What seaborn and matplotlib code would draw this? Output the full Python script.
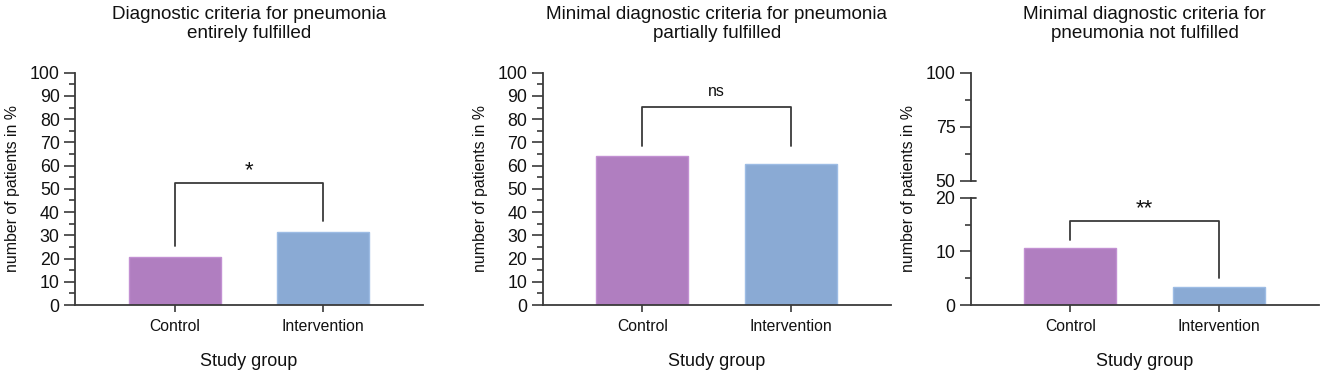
import matplotlib
matplotlib.use("Agg")
import matplotlib.pyplot as plt
import seaborn as sns
import pandas as pd
from matplotlib.ticker import MultipleLocator, FixedLocator

# ---- data ----
groups = ["Control", "Intervention"]
titles = [
    "Diagnostic criteria for pneumonia\nentirely fulfilled",
    "Minimal diagnostic criteria for pneumonia\npartially fulfilled",
    "Minimal diagnostic criteria for\npneumonia not fulfilled",
]
entirely = [20.5, 31.3]
partially = [64.3, 60.7]
not_fulfilled = [10.7, 3.3]
significance = ["*", "ns", "**"]
# bracket: (bar height, left leg end, right leg end, label y)
brackets = [
    (52.5, 25.6, 36.2, 58.0),
    (85.1, 68.4, 68.4, 91.8),
    (15.7, 12.1, 5.0, 18.0),
]
palette = ["#B07EC0", "#8AAAD4"]
edges = ["#C290D2", "#9DBCE4"]
axis_col = "#3a3a3a"
txt_col = "#111111"

sns.set_theme(style="ticks")
plt.rcParams["font.family"] = ["Liberation Sans", "DejaVu Sans"]
plt.rcParams["axes.edgecolor"] = axis_col
plt.rcParams["xtick.color"] = axis_col
plt.rcParams["ytick.color"] = axis_col
plt.rcParams["xtick.labelcolor"] = txt_col
plt.rcParams["ytick.labelcolor"] = txt_col
plt.rcParams["text.color"] = txt_col
plt.rcParams["axes.labelcolor"] = txt_col

W, H = 1325, 371
fig = plt.figure(figsize=(W / 100, H / 100), dpi=100)

def fx(px):
    return px / W

def fy(py):
    return (H - py) / H

y_bot_px, y_top_px = 305, 72.7
lefts = [75, 542.7, 970.7]
ax_w = 348

def draw_bars(ax, vals):
    df = pd.DataFrame({"group": groups, "value": vals})
    sns.barplot(data=df, x="group", y="value", hue="group", palette=palette,
                width=0.62, legend=False, ax=ax, saturation=1)
    for p, ec in zip(ax.patches, edges):
        p.set_edgecolor(ec)
        p.set_linewidth(1.0)
    ax.set_xlim(-0.67, 1.67)
    ax.set_xlabel("Study group", fontsize=13, labelpad=14)
    ax.set_ylabel("")
    ax.tick_params(axis="x", length=5, width=1.2, labelsize=11.3, pad=5)
    ax.tick_params(axis="y", which="major", length=8, width=1.2, labelsize=12.8, pad=3)
    ax.tick_params(axis="y", which="minor", length=4, width=1.2)
    for s in ["top", "right"]:
        ax.spines[s].set_visible(False)
    for s in ["left", "bottom"]:
        ax.spines[s].set_linewidth(1.3)

def draw_bracket(ax, b, label):
    top, l, r, ty = b
    ax.plot([0, 0, 1, 1], [l, top, top, r], color=axis_col, lw=1.3, clip_on=False)
    if label == "ns":
        ax.text(0.5, ty, label, ha="center", va="center", fontsize=11.5)
    else:
        ax.text(0.5, ty, label, ha="center", va="center", fontsize=16)

# panels 1 and 2
for i, vals in enumerate([entirely, partially]):
    ax = fig.add_axes([fx(lefts[i]), fy(y_bot_px), fx(ax_w), fy(y_top_px) - fy(y_bot_px)])
    draw_bars(ax, vals)
    ax.set_ylim(0, 100)
    ax.yaxis.set_major_locator(MultipleLocator(10))
    ax.yaxis.set_minor_locator(MultipleLocator(5))
    draw_bracket(ax, brackets[i], significance[i])
    fig.text(fx(lefts[i] + ax_w / 2), fy(6), titles[i], ha="center", va="top",
             fontsize=13.6, linespacing=1.15)
    fig.text(fx(lefts[i] - 62), fy(189), "number of patients in %", rotation=90,
             ha="center", va="center", fontsize=11.4)

# panel 3: broken axis
low_top_px, up_bot_px = 197.7, 181
ax_lo = fig.add_axes([fx(lefts[2]), fy(y_bot_px), fx(ax_w), fy(low_top_px) - fy(y_bot_px)])
ax_up = fig.add_axes([fx(lefts[2]), fy(up_bot_px), fx(ax_w), fy(y_top_px) - fy(up_bot_px)],
                     sharex=ax_lo)
draw_bars(ax_lo, not_fulfilled)
ax_lo.set_ylim(0, 20)
ax_lo.yaxis.set_major_locator(MultipleLocator(10))
ax_lo.yaxis.set_minor_locator(MultipleLocator(5))
draw_bracket(ax_lo, brackets[2], significance[2])

ax_up.set_ylim(50, 100)
ax_up.yaxis.set_major_locator(MultipleLocator(25))
ax_up.yaxis.set_minor_locator(FixedLocator([62.5, 87.5]))
ax_up.tick_params(axis="y", which="major", length=8, width=1.2, labelsize=12.8, pad=3)
ax_up.tick_params(axis="y", which="minor", length=4, width=1.2)
ax_up.tick_params(axis="x", bottom=False, labelbottom=False)
for s in ["top", "right", "bottom"]:
    ax_up.spines[s].set_visible(False)
ax_up.spines["left"].set_linewidth(1.3)
ax_up.patch.set_alpha(0)
# caps at the break
cap = 5 / ax_w
ax_up.plot([0, cap], [0, 0], transform=ax_up.transAxes, color=axis_col, lw=1.3, clip_on=False)
ax_lo.plot([0, cap], [1, 1], transform=ax_lo.transAxes, color=axis_col, lw=1.3, clip_on=False)

fig.text(fx(lefts[2] + ax_w / 2), fy(6), titles[2], ha="center", va="top",
         fontsize=13.6, linespacing=1.15)
fig.text(fx(lefts[2] - 62), fy(189), "number of patients in %", rotation=90,
         ha="center", va="center", fontsize=11.4)

fig.savefig("out.png", dpi=100)
